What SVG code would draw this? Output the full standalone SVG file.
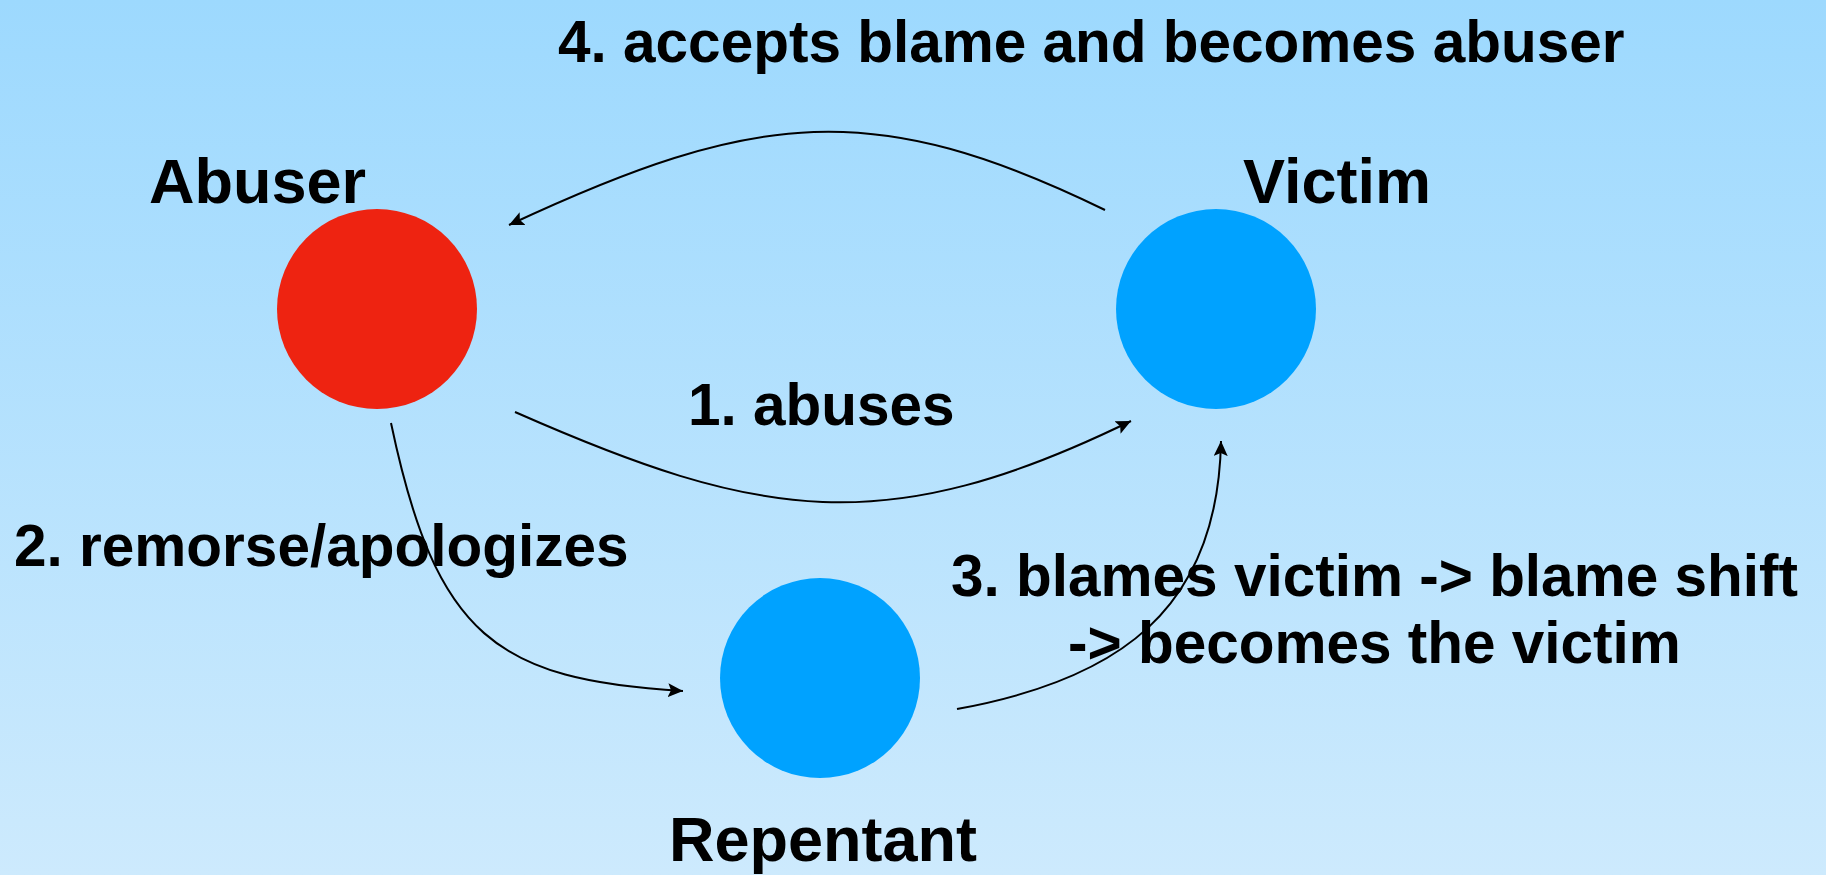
<svg xmlns="http://www.w3.org/2000/svg" width="1826" height="875" viewBox="0 0 1826 875">
  <defs>
    <linearGradient id="bg" x1="0" y1="0" x2="0" y2="1">
      <stop offset="0" stop-color="#9DD9FE"/>
      <stop offset="1" stop-color="#CDEAFD"/>
    </linearGradient>
    <marker id="arrow" viewBox="0 0 15 14" refX="15" refY="7" markerWidth="15" markerHeight="14" markerUnits="userSpaceOnUse" orient="auto">
      <path d="M0,0 L15,7 L0,14 L3,7 z" fill="#000"/>
    </marker>
    <style>
      .title { font-family: "Liberation Sans", Arial, Helvetica, sans-serif; font-weight: bold; font-size: 63px; fill: #000; }
      .caption { font-family: "Liberation Sans", Arial, Helvetica, sans-serif; font-weight: bold; font-size: 58.5px; fill: #000; }
      .conn { fill: none; stroke: #000; stroke-width: 2; marker-end: url(#arrow); }
    </style>
  </defs>
  <rect x="0" y="0" width="1826" height="875" fill="url(#bg)"/>

  <g id="connectors">
    <path class="conn" d="M515,412 C760,520 885,541 1131,421"/>
    <path class="conn" d="M391,423 C436,637 497,680 683,691"/>
    <path class="conn" d="M957,709 C1117,680 1218,611 1221,441"/>
    <path class="conn" d="M1105,210 C875,98 757,109 509,225"/>
  </g>

  <g id="node-abuser">
    <circle cx="377" cy="309" r="100" fill="#EE2311"/>
    <text class="title" x="149" y="203">Abuser</text>
  </g>
  <g id="node-victim">
    <circle cx="1216" cy="309" r="100" fill="#00A2FF"/>
    <text class="title" x="1243" y="203">Victim</text>
  </g>
  <g id="node-repentant">
    <circle cx="820" cy="678" r="100" fill="#00A2FF"/>
    <text class="title" x="669" y="861">Repentant</text>
  </g>

  <g id="labels">
    <text class="caption" x="558" y="62">4. accepts blame and becomes abuser</text>
    <text class="caption" x="688" y="425">1. abuses</text>
    <text class="caption" x="14" y="566">2. remorse/apologizes</text>
    <text class="caption" x="951" y="596">3. blames victim -&gt; blame shift</text>
    <text class="caption" x="1068" y="663">-&gt; becomes the victim</text>
  </g>
</svg>
